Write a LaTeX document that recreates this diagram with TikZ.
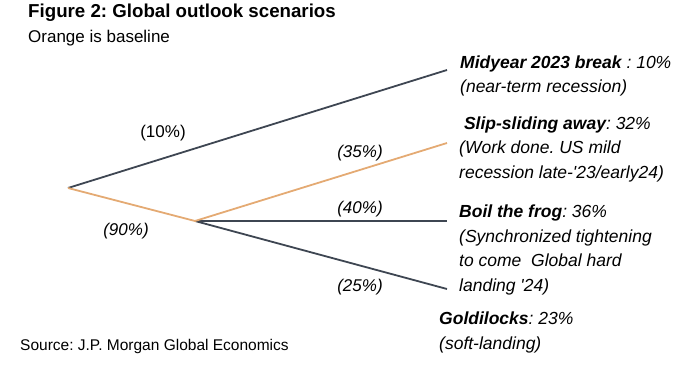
\documentclass[tikz,border=0pt]{standalone}
\usepackage{fontspec}
\setmainfont{Liberation Sans}
\usetikzlibrary{positioning}
\definecolor{jpslate}{RGB}{62,70,82}
\definecolor{jporange}{RGB}{228,170,115}
\frenchspacing
\tikzset{
  branch/.style={line width=1.8pt,draw=jpslate},
  baseline path/.style={line width=1.8pt,draw=jporange},
  prob/.style={inner sep=0pt,font=\fontsize{17}{20}\selectfont},
  scen/.style={anchor=base west,inner sep=0pt,align=left,
    font=\fontsize{17.5}{24.5}\selectfont\itshape},
}

\begin{document}
\begin{tikzpicture}[x=1pt,y=-1pt]
  \useasboundingbox (0,0) rectangle (674,366);
  % header and footer
  \node[anchor=base west,inner sep=0pt,font=\fontsize{18.7}{22}\selectfont\bfseries]
    (title) at (28,18) {Figure 2: Global outlook scenarios};
  \node[anchor=base west,inner sep=0pt,font=\fontsize{17}{20}\selectfont]
    (subtitle) at (28,43) {Orange is baseline};
  \node[anchor=base west,inner sep=0pt,font=\fontsize{15.5}{20}\selectfont]
    (source) at (20,350) {Source: J.P. Morgan Global Economics};

  % tree
  \coordinate (root) at (68,188);
  \coordinate (fork) at (195,221);
  \coordinate (endbreak) at (447,70);
  \coordinate (endslip) at (447,143);
  \coordinate (endfrog) at (447,221);
  \coordinate (endgold) at (447,289);
  \draw[branch] (root) -- (endbreak);
  \draw[branch] (fork) -- (endfrog);
  \draw[branch] (fork) -- (endgold);
  \draw[baseline path] (root) -- (fork) -- (endslip);

  \node[prob] (p10) at (163,133) {(10\%)};
  \node[prob,font=\fontsize{17}{20}\selectfont\itshape] (p90) at (126,231) {(90\%)};
  \node[prob,font=\fontsize{17}{20}\selectfont\itshape] (p35) at (360,153) {(35\%)};
  \node[prob,font=\fontsize{17}{20}\selectfont\itshape] (p40) at (360,209) {(40\%)};
  \node[prob,font=\fontsize{17}{20}\selectfont\itshape] (p25) at (360,287) {(25\%)};

  % scenarios (anchored on the baseline of the last line)
  \node[scen] (midyear) at (460,93) {\textbf{Midyear 2023 break} : 10\%\\(near-term recession)};
  \node[scen] (slip) at (459,178.5) {\ \textbf{Slip-sliding away}: 32\%\\(Work done. US mild\\recession late-\textquotesingle23/early24)};
  \node[scen] (frog) at (459,291) {\textbf{Boil the frog}: 36\%\\(Synchronized tightening\\to come\ \ Global hard\\landing \textquotesingle24)};
  \node[scen] (gold) at (439,349) {\textbf{Goldilocks}: 23\%\\(soft-landing)};
\end{tikzpicture}
\end{document}
